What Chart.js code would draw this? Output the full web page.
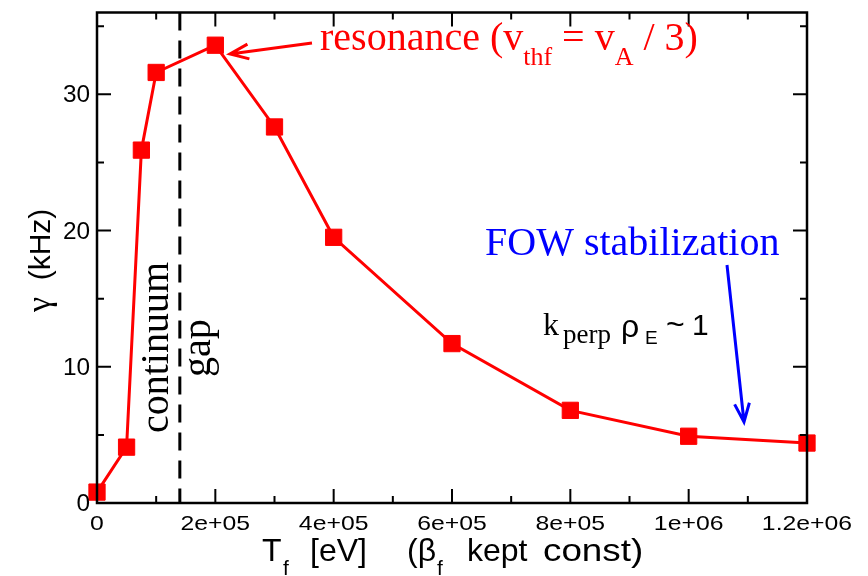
<!DOCTYPE html>
<html lang="en">
<head>
  <meta charset="UTF-8" />
  <title>Growth rate vs fast ion temperature</title>
  <script src="https://cdn.jsdelivr.net/npm/chart.js"></script>
  <style>
    html, body { margin: 0; padding: 0; background: #fff; }
    canvas { display: block; }
  </style>
</head>
<body>
  <canvas id="gammaChart" width="868" height="576"></canvas>

  <script>
    // data
    const tempValues = [0, 50000, 75000, 100000, 200000, 300000, 400000, 600000, 800000, 1000000, 1200000];
    const gammaValues = [0.8, 4.1, 25.9, 31.6, 33.6, 27.6, 19.5, 11.7, 6.8, 4.9, 4.4];
    const gapEdge = 140000;

    const xMajorTicks = [0, 200000, 400000, 600000, 800000, 1000000, 1200000];
    const xTickLabels = ['0', '2e+05', '4e+05', '6e+05', '8e+05', '1e+06', '1.2e+06'];
    const xMinorTicks = [100000, 300000, 500000, 700000, 900000, 1100000];
    const yMajorTicks = [0, 10, 20, 30];
    const yTickLabels = ['0', '10', '20', '30'];
    const yMinorTicks = [5, 15, 25, 35];

    const SANS = '"Liberation Sans", Arial, sans-serif';
    const SERIF = '"Liberation Serif", "Times New Roman", serif';

    // draw a string, optionally stretched horizontally
    function txt(ctx, s, x, y, font, color, align, sx) {
      ctx.save();
      ctx.font = font;
      ctx.fillStyle = color;
      ctx.textAlign = align || 'left';
      ctx.translate(x, y);
      ctx.scale(sx || 1, 1);
      ctx.fillText(s, 0, 0);
      ctx.restore();
    }

    // run of text pieces with subscripts, returns end x
    function run(ctx, parts, x, y, color) {
      ctx.save();
      ctx.fillStyle = color;
      ctx.textAlign = 'left';
      parts.forEach(p => {
        ctx.font = p.font;
        ctx.fillText(p.t, x, y + (p.dy || 0));
        x += ctx.measureText(p.t).width;
      });
      ctx.restore();
      return x;
    }

    function arrow(ctx, x0, y0, x1, y1, color) {
      const a = Math.atan2(y1 - y0, x1 - x0);
      const len = 20, spread = 0.38;
      ctx.save();
      ctx.strokeStyle = color;
      ctx.lineWidth = 3;
      ctx.beginPath();
      ctx.moveTo(x0, y0);
      ctx.lineTo(x1, y1);
      ctx.moveTo(x1 - len * Math.cos(a - spread), y1 - len * Math.sin(a - spread));
      ctx.lineTo(x1, y1);
      ctx.lineTo(x1 - len * Math.cos(a + spread), y1 - len * Math.sin(a + spread));
      ctx.stroke();
      ctx.restore();
    }

    function rotated(ctx, s, x, y, font, align) {
      ctx.save();
      ctx.translate(x, y);
      ctx.rotate(-Math.PI / 2);
      txt(ctx, s, 0, 0, font, '#000', align);
      ctx.restore();
    }

    const framePlugin = {
      id: 'framePlugin',
      beforeDatasetsDraw(chart) {
        const { ctx, chartArea: a, scales: { x } } = chart;
        // dashed continuum / gap boundary
        const gx = x.getPixelForValue(gapEdge);
        ctx.save();
        ctx.strokeStyle = '#000';
        ctx.lineWidth = 3;
        ctx.setLineDash([18, 10]);
        ctx.beginPath();
        ctx.moveTo(gx, a.top);
        ctx.lineTo(gx, a.bottom);
        ctx.stroke();
        ctx.restore();
      },
      afterDatasetsDraw(chart) {
        const { ctx, chartArea: a, scales: { x, y } } = chart;
        ctx.save();
        ctx.strokeStyle = '#000';
        ctx.lineWidth = 2.5;
        ctx.strokeRect(a.left, a.top, a.right - a.left, a.bottom - a.top);

        const tickX = (v, len) => {
          const px = x.getPixelForValue(v);
          ctx.beginPath();
          ctx.moveTo(px, a.bottom); ctx.lineTo(px, a.bottom - len);
          ctx.moveTo(px, a.top); ctx.lineTo(px, a.top + len);
          ctx.stroke();
        };
        const tickY = (v, len) => {
          const py = y.getPixelForValue(v);
          ctx.beginPath();
          ctx.moveTo(a.left, py); ctx.lineTo(a.left + len, py);
          ctx.moveTo(a.right, py); ctx.lineTo(a.right - len, py);
          ctx.stroke();
        };
        ctx.lineWidth = 2;
        xMajorTicks.forEach(v => tickX(v, 14));
        xMinorTicks.forEach(v => tickX(v, 7));
        yMajorTicks.forEach(v => tickY(v, 14));
        yMinorTicks.forEach(v => tickY(v, 7));
        ctx.restore();

        // tick labels
        xMajorTicks.forEach((v, i) => {
          txt(ctx, xTickLabels[i], x.getPixelForValue(v), 530, '21px ' + SANS, '#000', 'center', 1.18);
        });
        yMajorTicks.forEach((v, i) => {
          txt(ctx, yTickLabels[i], a.left - 7, y.getPixelForValue(v) + 8, '23px ' + SANS, '#000', 'right', 1.06);
        });

        // axis titles
        ctx.save();
        ctx.translate(50, 255);
        ctx.rotate(-Math.PI / 2);
        run(ctx, [
          { t: '\u03b3', font: '34px ' + SERIF },
          { t: '  (kHz)', font: '30px ' + SANS }
        ], -57, 0, '#000');
        ctx.restore();

        const f32 = '32px ' + SANS, f21 = '21px ' + SANS;
        txt(ctx, 'T', 262, 561, f32, '#000');
        txt(ctx, 'f', 283, 575, f21, '#000');
        txt(ctx, '[eV]', 310, 561, f32, '#000');
        txt(ctx, '(\u03b2', 407, 561, f32, '#000');
        txt(ctx, 'f', 437, 575, f21, '#000');
        txt(ctx, 'kept', 467, 561, f32, '#000');
        txt(ctx, 'const)', 543, 561, f32, '#000', 'left', 1.15);

        // annotations
        const s40 = '40px ' + SERIF, s26 = '26px ' + SERIF;
        run(ctx, [
          { t: 'resonance (v', font: s40 },
          { t: 'thf', font: s26, dy: 15 },
          { t: ' = v', font: s40 },
          { t: 'A', font: s26, dy: 15 },
          { t: ' / 3)', font: s40 }
        ], 320, 50, '#ff0000');
        arrow(ctx, 312, 43, 230, 54, '#ff0000');

        txt(ctx, 'FOW stabilization', 485, 255, s40, '#0000ff');
        arrow(ctx, 727, 265, 744, 422, '#0000ff');

        txt(ctx, 'k', 543, 335, '32px ' + SERIF, '#000');
        txt(ctx, 'perp', 563, 343, '27px ' + SERIF, '#000');
        txt(ctx, '\u03c1', 621, 337, '32px ' + SANS, '#000');
        txt(ctx, 'E', 645, 344, '19px ' + SANS, '#000');
        txt(ctx, '~', 666, 335, '32px ' + SANS, '#000');
        txt(ctx, '1', 692, 335, '30px ' + SANS, '#000');

        rotated(ctx, 'continuum', 168, 433, s40, 'left');
        rotated(ctx, 'gap', 210, 377, s40, 'left');
      }
    };

    new Chart(document.getElementById('gammaChart').getContext('2d'), {
      type: 'scatter',
      data: {
        datasets: [{
          data: tempValues.map((t, i) => ({ x: t, y: gammaValues[i] })),
          showLine: true,
          borderColor: '#ff0000',
          borderWidth: 3,
          backgroundColor: '#ff0000',
          pointStyle: 'rect',
          pointRadius: 11.5,
          pointBorderWidth: 1,
          pointBorderColor: '#ff0000',
          clip: false
        }]
      },
      options: {
        responsive: false,
        animation: false,
        layout: { padding: { left: 97, right: 61, top: 7, bottom: 73 } },
        plugins: { legend: { display: false }, tooltip: { enabled: false } },
        scales: {
          x: { type: 'linear', min: 0, max: 1200000, display: false },
          y: { type: 'linear', min: 0, max: 36, display: false }
        }
      },
      plugins: [framePlugin]
    });
  </script>
</body>
</html>
